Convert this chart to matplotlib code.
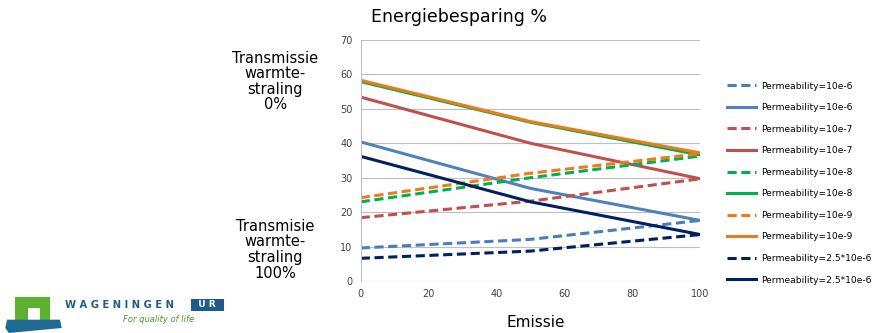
import numpy as np
import matplotlib
matplotlib.use("Agg")
import matplotlib.pyplot as plt
from matplotlib.patches import Rectangle, Polygon

# emission levels (x axis)
emissie = [0, 50, 100]

labels = ["Permeability=10e-6", "Permeability=10e-6",
          "Permeability=10e-7", "Permeability=10e-7",
          "Permeability=10e-8", "Permeability=10e-8",
          "Permeability=10e-9", "Permeability=10e-9",
          "Permeability=2.5*10e-6", "Permeability=2.5*10e-6"]

# energy saving % for each series (dashed first, then solid)
p6_dash = [9.6, 12.1, 17.6]
p6_solid = [40.4, 26.9, 17.6]
p7_dash = [18.4, 23.2, 29.7]
p7_solid = [53.4, 40.0, 29.7]
p8_dash = [23.0, 30.0, 36.3]
p8_solid = [57.9, 46.1, 36.6]
p9_dash = [24.2, 31.3, 37.0]
p9_solid = [58.3, 46.3, 37.2]
p25_dash = [6.6, 8.7, 13.5]
p25_solid = [36.2, 23.0, 13.5]

series = [p6_dash, p6_solid, p7_dash, p7_solid, p8_dash, p8_solid,
          p9_dash, p9_solid, p25_dash, p25_solid]
colors = ["#4A7EBB", "#4F81BD", "#C0504D", "#C0504D", "#00B050", "#00B050",
          "#EE7A1A", "#EE7A1A", "#002060", "#002060"]
styles = ["--", "-"] * 5

fig = plt.figure(figsize=(8.82, 3.33), dpi=100)
ax = fig.add_axes([0.409, 0.156, 0.385, 0.724])

handles = []
for vals, c, ls, lab in zip(series, colors, styles, labels):
    h, = ax.plot(emissie, vals, color=c, linestyle=ls, linewidth=2.2,
                 dashes=(3, 1.5) if ls == "--" else (None, None), label=lab)
    handles.append(h)

ax.set_xlim(0, 100)
ax.set_ylim(0, 70)
ax.set_xticks(np.arange(0, 101, 20))
ax.set_yticks(np.arange(0, 71, 10))
ax.grid(axis="y", color="#BFBFBF", linewidth=0.8)
ax.set_axisbelow(True)
for s in ["top", "right", "bottom"]:
    ax.spines[s].set_visible(False)
ax.spines["left"].set_color("#BFBFBF")
ax.tick_params(length=0, labelsize=7, colors="#404040", pad=6)

fig.legend(handles=handles, labels=labels, loc="upper left",
           bbox_to_anchor=(0.815, 0.78), frameon=False, fontsize=6.6,
           handlelength=3.2, labelspacing=1.37, handletextpad=0.5)

fig.text(0.52, 0.95, "Energiebesparing %", ha="center", va="center", fontsize=12.5)
fig.text(0.607, 0.033, "Emissie", ha="center", va="center", fontsize=11)
fig.text(0.312, 0.755, "Transmissie\nwarmte-\nstraling\n0%", ha="center",
         va="center", fontsize=10.5, linespacing=1.05)
fig.text(0.312, 0.25, "Transmisie\nwarmte-\nstraling\n100%", ha="center",
         va="center", fontsize=10.5, linespacing=1.05)

# logo
fig.patches.append(Rectangle((0.017, 0.03), 0.04, 0.078, transform=fig.transFigure,
                             facecolor="#5DB12F", edgecolor="none"))
fig.patches.append(Rectangle((0.032, 0.03), 0.013, 0.045, transform=fig.transFigure,
                             facecolor="white", edgecolor="none"))
fig.patches.append(Polygon([(0.008, 0.04), (0.068, 0.04), (0.07, 0.015),
                            (0.01, 0.0), (0.006, 0.015)], closed=True,
                           transform=fig.transFigure, facecolor="#1F6A94",
                           edgecolor="none"))
fig.text(0.074, 0.085, "W A G E N I N G E N", fontsize=7.2, color="#1F5C8C",
         fontweight="bold", va="center", ha="left")
fig.text(0.218, 0.085, "  U R  ", fontsize=6.5, color="white", fontweight="bold",
         va="center", ha="left",
         bbox=dict(facecolor="#1F5C8C", edgecolor="none", pad=1.2))
fig.text(0.14, 0.04, "For quality of life", fontsize=6, color="#4C9A2A",
         style="italic", va="center", ha="left")

plt.savefig("out.png", dpi=100)
